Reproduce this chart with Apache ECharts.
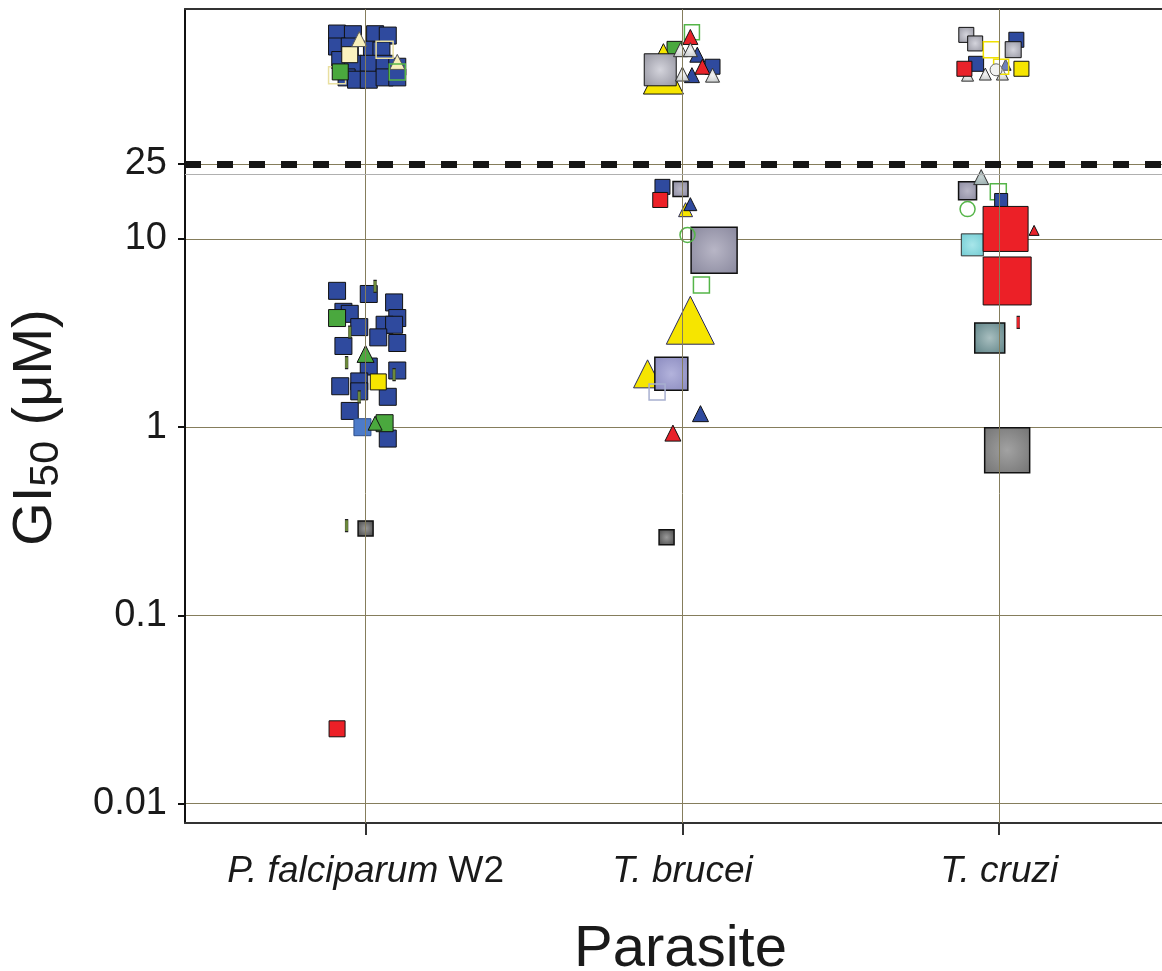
<!DOCTYPE html>
<html>
<head>
<meta charset="utf-8">
<title>GI50 by parasite</title>
<script src="https://cdn.jsdelivr.net/npm/echarts@6/dist/echarts.min.js"></script>
<style>
  html, body { margin: 0; padding: 0; background: #fff; }
  #chart { width: 1162px; height: 971px; }
</style>
</head>
<body>
<div id="chart"></div>
<script>
// x = parasite position (1, 2, 3) plus jitter, y = GI50 in uM, third value = marker size
const parasites = ['P. falciparum', 'T. brucei', 'T. cruzi'];
const yTicks = [0.01, 0.1, 1, 10];
const cutoff = 25;

// inactive compounds (above 25 uM)
const topBlueSq = [[0.91,123,17],[0.96,122,17],[1.03,122,17],[1.07,120,17],[0.91,105,17],[0.95,105,17],[1.02,101,17],[1.05,100,17],
  [0.92,89,17],[0.96,85,17],[1.01,85,17],[1.06,85,17],[1.10,82,17],[0.94,72,17],[0.97,70,17],[1.01,70,17],[1.06,72,17],[1.10,72,17],
  [2.095,82,15],[3.054,114,15],[2.927,85,15]];
const topCreamHollowSq = [[1.06,101,17],[0.91,74,17]];
const topGreenHollowSq = [[1.10,77,16],[2.03,125,15]];
const topCreamSq = [[0.95,95,16]];
const topCreamTri = [[0.98,115,15],[1.10,87,15]];
const topGreenSq = [[0.92,77,16],[1.975,102,15]];
const topYellowTri = [[1.94,75,40],[1.94,101,12]];
const topGraySq = [[1.93,79,32],[2.896,121,15],[2.924,109,15],[3.044,101,16]];
const topRedTri = [[2.025,118,15],[2.063,82,15]];
const topBlueTri = [[2.047,95,15],[2.03,74,15],[3.02,84,11]];
const topWhiteTri = [[1.994,101,14],[2.0,75,14],[2.095,74,14],[2.025,101,14],[2.90,74,12],[2.956,75,12],[3.01,75,12]];
const topYellowHollowSq = [[2.975,101,16],[3.006,82,15]];
const topRedSq = [[2.89,80,15]];
const topYellowSq = [[3.07,80,15]];
const topWhiteCircle = [[2.99,79,12]];

// active compounds (below 25 uM)
const blueSq = [[0.91,5.3,17],[1.01,5.1,17],[1.09,4.6,17],[0.93,4.1,17],[0.95,4.0,17],[1.10,3.8,17],[1.06,3.5,17],[1.09,3.5,17],
  [0.98,3.4,17],[1.04,3.0,17],[1.10,2.8,17],[0.93,2.7,17],[1.01,2.1,17],[1.10,2.0,17],[0.92,1.65,17],[0.98,1.75,17],[0.98,1.55,17],
  [1.07,1.45,17],[0.95,1.22,17],[1.07,0.87,17],[1.937,18.9,15]];
const lightBlueSq = [[0.99,1.0,17]];
const greenSq = [[0.91,3.8,17],[1.06,1.05,17]];
const greenTri = [[1.0,2.45,17],[1.03,1.05,14]];
const yellowSq = [[1.04,1.74,16]];
const pins = [[0.95,3.2],[1.03,5.6],[0.94,2.2],[1.09,1.9],[0.98,1.45],[0.94,0.30]];
const redPins = [[3.06,3.6]];
const darkSq = [[1.0,0.29,15],[1.95,0.26,15]];
const graySq = [[1.994,18.4,15],[2.10,8.7,46],[2.90,18.0,18]];
const bigGraySq = [[3.025,0.755,45]];
const cyanSq = [[2.915,9.3,22]];
const redSq = [[0.91,0.025,16],[1.93,16.1,15],[3.02,11.3,45],[3.025,5.98,48]];
const tealSq = [[2.97,2.98,30]];
const yellowTri = [[2.01,14.3,14],[2.025,3.7,48],[1.89,1.92,28]];
const lilacSq = [[1.965,1.92,33]];
const lilacHollowSq = [[1.92,1.54,16]];
const blueTri = [[2.025,15.3,13],[2.057,1.18,16]];
const redTri = [[1.97,0.93,16],[3.11,11.1,10]];
const grayTri = [[2.943,21.3,15]];
const greenHollowCircle = [[2.016,10.5,15],[2.90,14.4,15]];
const greenHollowSq = [[2.06,5.7,16],[2.997,17.8,16]];
const blueSmallSq = [[3.006,16.1,13]];

const FONT = 'Liberation Sans, Arial, sans-serif';
const GRID_C = '#857d5c';

function grad(inner, outer) {
  return { type: 'radial', x: 0.5, y: 0.5, r: 0.75,
    colorStops: [{ offset: 0, color: inner }, { offset: 1, color: outer }] };
}

function pts(g, data, symbol, color, border, bw) {
  return {
    type: 'scatter', xAxisIndex: g, yAxisIndex: g, data: data, symbol: symbol,
    symbolSize: function (d) { return d[2]; },
    itemStyle: { color: color, borderColor: border || '#111', borderWidth: bw == null ? 1 : bw, opacity: 1 },
    z: 3, silent: true
  };
}

function pinSeries(data, color) {
  return {
    type: 'scatter', xAxisIndex: 1, yAxisIndex: 1, data: data, symbol: 'rect', symbolSize: [3, 12],
    itemStyle: { color: color, borderColor: '#222', borderWidth: 0.6, opacity: 1 }, z: 3, silent: true
  };
}

function gridLines(g, extra) {
  const lines = parasites.map(function (p, i) {
    return { xAxis: i + 1, lineStyle: { color: GRID_C, width: 1, type: 'solid' } };
  });
  return {
    type: 'scatter', xAxisIndex: g, yAxisIndex: g, data: [], z: 1, silent: true,
    markLine: { silent: true, symbol: ['none', 'none'], label: { show: false }, animation: false,
      data: lines.concat(extra || []) }
  };
}

const xLabels = {
  1: '{i|P. falciparum }{n|W2}',
  2: '{i|T. brucei}',
  3: '{i|T. cruzi}'
};

const chart = echarts.init(document.getElementById('chart'));
chart.setOption({
  animation: false,
  backgroundColor: '#fff',
  grid: [
    { left: 185, right: -2, top: 9, height: 155, outerBoundsMode: 'none', containLabel: false },
    { left: 185, right: -2, top: 164, bottom: 148, outerBoundsMode: 'none', containLabel: false }
  ],
  xAxis: [
    { type: 'value', gridIndex: 0, min: 0.43, max: 3.52, position: 'top',
      axisLine: { show: true, lineStyle: { color: '#333', width: 2 } },
      axisTick: { show: false }, axisLabel: { show: false }, splitLine: { show: false } },
    { type: 'value', gridIndex: 1, min: 0.43, max: 3.52,
      axisLine: { show: true, onZero: false, lineStyle: { color: '#333', width: 2 } },
      axisTick: { show: true, customValues: [1, 2, 3], length: 12, lineStyle: { color: '#333', width: 2 } },
      axisLabel: { customValues: [1, 2, 3], margin: 30,
        formatter: function (v) { return xLabels[Math.round(v)] || ''; },
        rich: {
          i: { fontFamily: FONT, fontSize: 37, fontStyle: 'italic', color: '#1a1a1a' },
          n: { fontFamily: FONT, fontSize: 37, color: '#1a1a1a' }
        } },
      splitLine: { show: false },
      name: 'Parasite', nameLocation: 'middle', nameGap: 98,
      nameTextStyle: { fontFamily: FONT, fontSize: 58, color: '#1a1a1a', padding: [0, 0, 0, 12] } }
  ],
  yAxis: [
    { type: 'log', gridIndex: 0, min: cutoff, max: 166,
      axisLine: { show: true, lineStyle: { color: '#111', width: 2 } },
      axisTick: { show: false }, axisLabel: { show: false }, splitLine: { show: false } },
    { type: 'log', gridIndex: 1, min: 0.0079, max: cutoff,
      axisLine: { show: true, onZero: false, lineStyle: { color: '#111', width: 2 } },
      axisTick: { show: true, length: 7, lineStyle: { color: '#111', width: 2 } },
      axisLabel: { showMinLabel: false, margin: 18, fontFamily: FONT, fontSize: 38, color: '#1a1a1a',
        formatter: function (v) { return String(+v.toPrecision(6)); } },
      splitLine: { show: true, lineStyle: { color: GRID_C, width: 1 } },
      name: '{a|GI}{b|50}{a| (μM)}', nameLocation: 'middle', nameGap: 118,
      nameTextStyle: { padding: [0, 0, 0, 132],
        rich: {
          a: { fontFamily: FONT, fontSize: 56, lineHeight: 62, color: '#1a1a1a' },
          b: { fontFamily: FONT, fontSize: 41, lineHeight: 36, verticalAlign: 'bottom', padding: [18, 0, 0, 0], color: '#1a1a1a' }
        } } }
  ],
  series: [
    gridLines(0),
    gridLines(1, [
      { yAxis: 22.1, lineStyle: { color: '#b0b0b0', width: 1, type: 'solid' } },
      { yAxis: cutoff, lineStyle: { color: '#151515', width: 7, type: [16, 16] } }
    ]),
    // inactive band
    pts(0, topBlueSq, 'rect', '#2f4a9e'),
    pts(0, topCreamHollowSq, 'rect', 'rgba(0,0,0,0)', '#e9dfa0', 1.5),
    pts(0, topCreamSq, 'rect', '#fbf3bf'),
    pts(0, topCreamTri, 'triangle', '#f8efbb', '#555'),
    pts(0, topGreenSq, 'rect', '#4aa83e'),
    pts(0, topGreenHollowSq, 'rect', 'rgba(0,0,0,0)', '#55b548', 1.5),
    pts(0, topYellowTri, 'triangle', '#f6e500'),
    pts(0, topGraySq, 'rect', grad('#d4d4dc', '#8e8e9a')),
    pts(0, topBlueTri, 'triangle', '#2f4a9e'),
    pts(0, topRedTri, 'triangle', '#e8222a'),
    pts(0, topWhiteTri, 'triangle', grad('#f4f4f4', '#b8bcbc'), '#333'),
    pts(0, topRedSq, 'rect', '#e8222a'),
    pts(0, topYellowSq, 'rect', '#f6e500'),
    pts(0, topYellowHollowSq, 'rect', 'rgba(255,255,255,0.3)', '#f0e000', 1.5),
    pts(0, topWhiteCircle, 'circle', '#f2f2f2', '#666'),
    // active compounds
    pts(1, blueSq, 'rect', '#2f4a9e'),
    pts(1, lightBlueSq, 'rect', '#4d7bc9', '#2c4d8a'),
    pts(1, greenSq, 'rect', '#4aa83e'),
    pts(1, greenTri, 'triangle', '#4aa83e'),
    pts(1, yellowSq, 'rect', '#f6e500'),
    pinSeries(pins, '#6c8a3a'),
    pinSeries(redPins, '#e8222a'),
    pts(1, darkSq, 'rect', grad('#9a9a9a', '#3a3a3a'), '#111', 1.5),
    pts(1, cyanSq, 'rect', grad('#a8e6ea', '#6cc9d0'), '#333'),
    pts(1, redSq, 'rect', '#ec2027'),
    pts(1, graySq, 'rect', grad('#b8b6c6', '#85849a'), '#111', 1.5),
    pts(1, bigGraySq, 'rect', grad('#a2a2a2', '#707070'), '#111', 1.5),
    pts(1, tealSq, 'rect', grad('#a9bfc0', '#567c80'), '#111', 1.5),
    pts(1, yellowTri, 'triangle', '#f6e500', '#2a2a60'),
    pts(1, lilacSq, 'rect', grad('#b3b3dc', '#8585bb'), '#111', 1.5),
    pts(1, lilacHollowSq, 'rect', 'rgba(0,0,0,0)', '#a8b0d0', 1.5),
    pts(1, blueTri, 'triangle', '#2f4a9e'),
    pts(1, redTri, 'triangle', '#e8222a'),
    pts(1, grayTri, 'triangle', grad('#c8d4d4', '#8aa0a0'), '#333'),
    pts(1, greenHollowCircle, 'circle', 'rgba(0,0,0,0)', '#55b548', 1.5),
    pts(1, greenHollowSq, 'rect', 'rgba(255,255,255,0.6)', '#55b548', 1.5),
    pts(1, blueSmallSq, 'rect', '#2f4a9e')
  ]
});
</script>
</body>
</html>
